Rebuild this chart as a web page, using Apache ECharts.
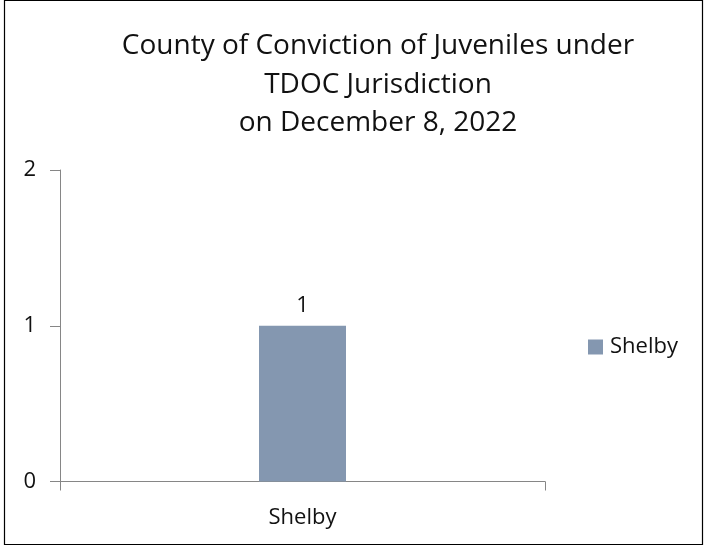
<!DOCTYPE html>
<html><head><meta charset="utf-8">
<script src="https://cdn.jsdelivr.net/npm/echarts@6/dist/echarts.min.js"></script>
<style>html,body{margin:0;padding:0;background:#fff}#c{width:707px;height:548px}</style>
</head><body><div id="c"></div>
<script>
const categories = ['Shelby'];
const seriesName = 'Shelby';
const values = [1];
const titleLines = ['County of Conviction of Juveniles under', 'TDOC Jurisdiction', 'on December 8, 2022'];

const FONT = 'Open Sans';
const chart = echarts.init(document.getElementById('c'), null, {renderer: 'canvas'});
chart.setOption({
  animation: false,
  backgroundColor: '#fff',
  textStyle: {fontFamily: FONT},
  graphic: [{type: 'rect', shape: {x: 4.5, y: 0.5, width: 698, height: 544}, style: {fill: 'none', stroke: '#000', lineWidth: 1.2}, silent: true}],
  title: {
    text: titleLines.join('\n'),
    left: 373, top: 22, textAlign: 'center',
    textStyle: {fontFamily: FONT, fontSize: 28, fontWeight: 'normal', color: '#111', lineHeight: 38.5}
  },
  legend: {
    orient: 'vertical', left: 583, top: 331, itemWidth: 15, itemHeight: 15, icon: 'rect', itemGap: 8,
    textStyle: {fontFamily: FONT, fontSize: 22, color: '#111', padding: [0,0,0,2]}
  },
  grid: {left: 60, right: 162, top: 170, bottom: 66.5, containLabel: false},
  xAxis: {
    type: 'category', data: categories,
    axisLine: {show: true, lineStyle: {color: '#868686', width: 1}},
    axisTick: {show: true, length: 9, lineStyle: {color: '#868686'}},
    axisLabel: {fontFamily: FONT, fontSize: 22, color: '#111', margin: 25}
  },
  yAxis: {
    type: 'value', min: 0, max: 2, interval: 1,
    axisLine: {show: true, lineStyle: {color: '#868686', width: 1}},
    axisTick: {show: true, length: 10, lineStyle: {color: '#868686'}},
    splitLine: {show: false},
    axisLabel: {fontFamily: FONT, fontSize: 22, color: '#111', margin: 24}
  },
  series: [{
    name: seriesName, type: 'bar', data: values, barWidth: 87,
    itemStyle: {color: '#8497b0'},
    label: {show: true, position: 'top', distance: 9, fontFamily: FONT, fontSize: 22, color: '#111'}
  }]
});
</script></body></html>
